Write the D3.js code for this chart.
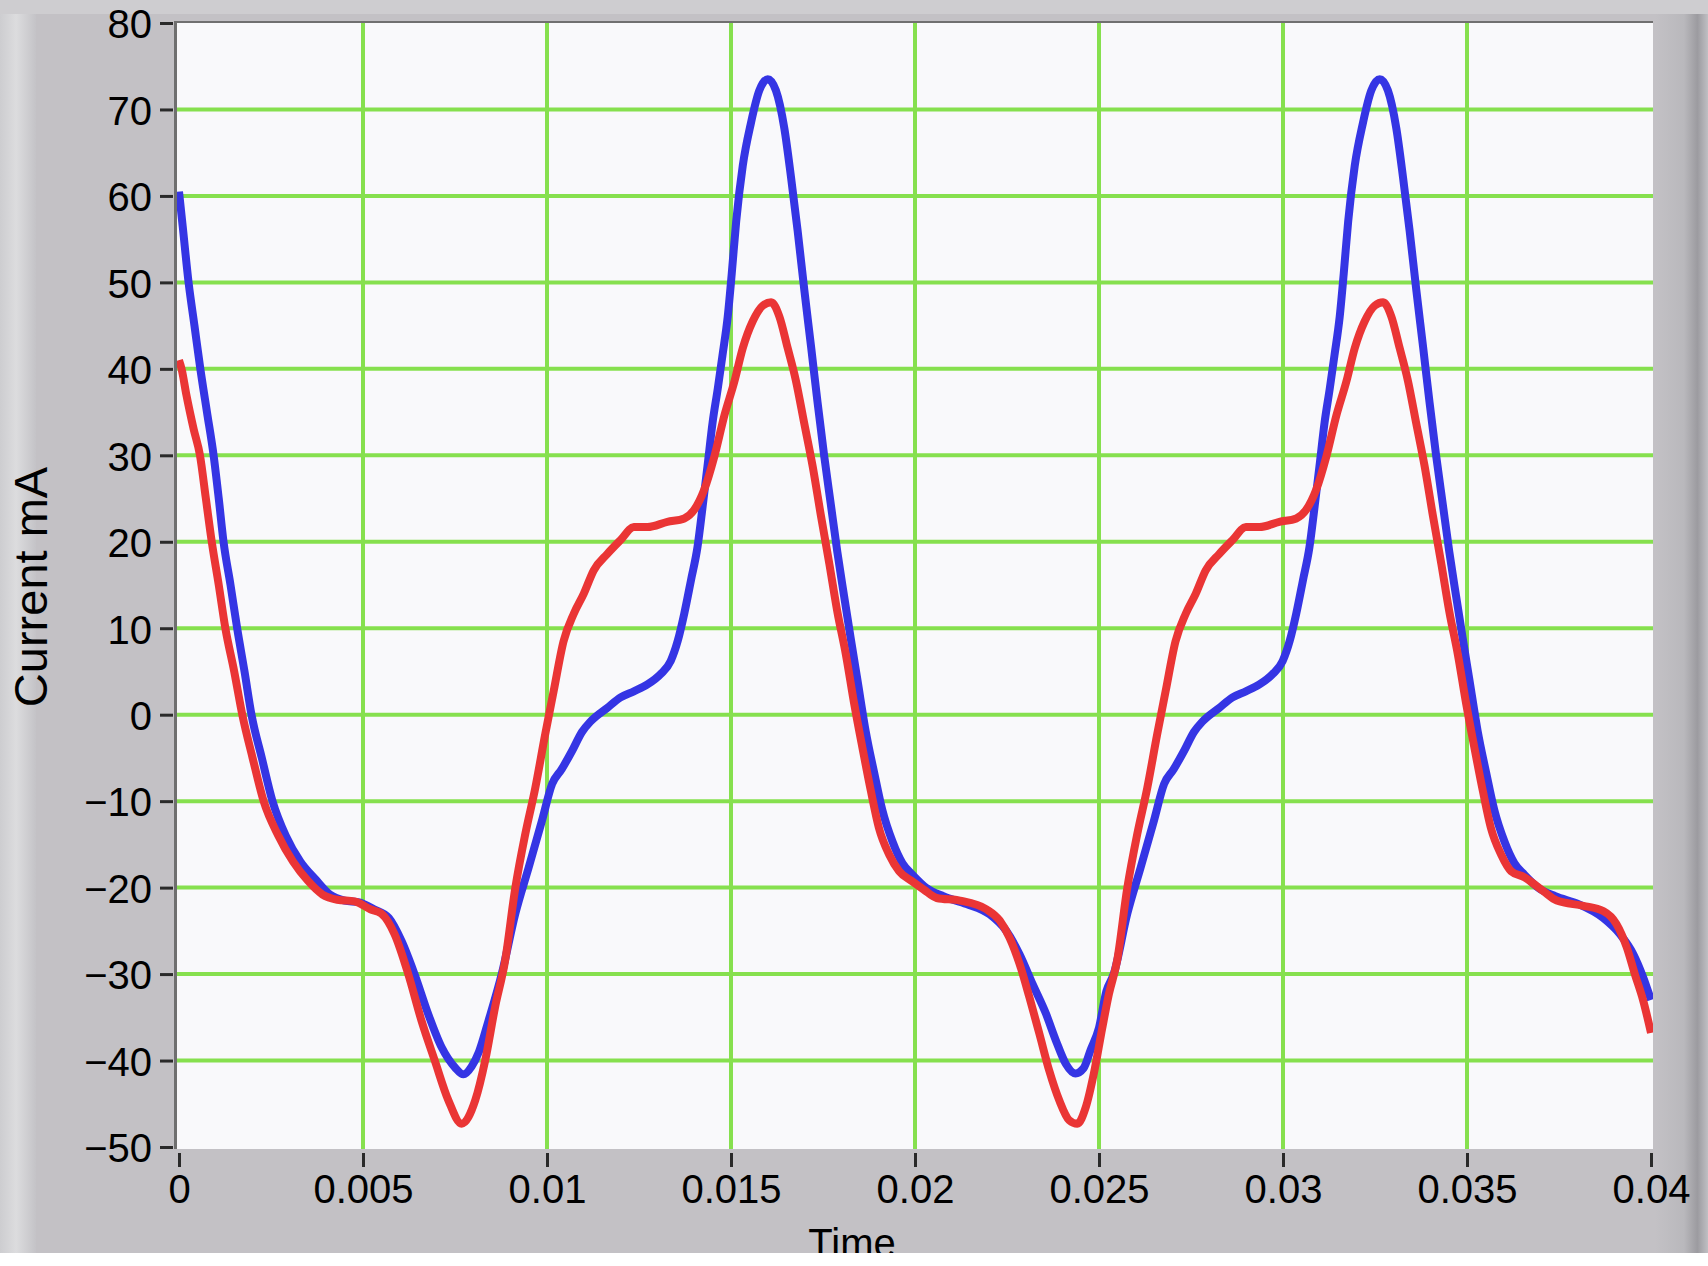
<!DOCTYPE html>
<html><head><meta charset="utf-8">
<script src="https://cdn.jsdelivr.net/npm/d3@7"></script>
<style>html,body{margin:0;padding:0;background:#fff;}svg{display:block;}</style>
</head><body>
<script>
// ---- data ----
const xTicks = [0, 0.005, 0.01, 0.015, 0.02, 0.025, 0.03, 0.035, 0.04];
const xTickLabels = ["0", "0.005", "0.01", "0.015", "0.02", "0.025", "0.03", "0.035", "0.04"];
const yTicks = [80, 70, 60, 50, 40, 30, 20, 10, 0, -10, -20, -30, -40, -50];
const yTickLabels = ["80", "70", "60", "50", "40", "30", "20", "10", "0", "\u221210", "\u221220", "\u221230", "\u221240", "\u221250"];
const xLabel = "Time";
const yLabel = "Current mA";

const blueTime = [0, 0.0001, 0.00026, 0.00042, 0.00058, 0.00076, 0.00094, 0.00108, 0.00121, 0.0014, 0.00158, 0.00178, 0.00197, 0.00225, 0.00254, 0.0029, 0.0033, 0.0037, 0.0041, 0.0045, 0.0049, 0.0053, 0.0057, 0.00605, 0.0064, 0.00677, 0.00714, 0.0075, 0.00773, 0.00795, 0.00815, 0.00841, 0.00877, 0.00914, 0.0095, 0.00986, 0.01014, 0.0104, 0.01068, 0.01095, 0.01118, 0.01164, 0.012, 0.01236, 0.01273, 0.01309, 0.01336, 0.01355, 0.01373, 0.01391, 0.01409, 0.01423, 0.01436, 0.0145, 0.01464, 0.01477, 0.01491, 0.01502, 0.01514, 0.01532, 0.01554, 0.01577, 0.016, 0.01622, 0.01645, 0.01663, 0.01681, 0.01699, 0.01718, 0.01735, 0.01753, 0.01771, 0.01789, 0.01807, 0.01825, 0.01844, 0.01866, 0.01889, 0.01911, 0.01939, 0.01966, 0.01993, 0.0203, 0.02077, 0.0214, 0.02203, 0.02248, 0.02284, 0.0232, 0.02356, 0.02383, 0.0241, 0.02436, 0.02458, 0.02477, 0.025, 0.0252, 0.0254, 0.02577, 0.02613, 0.02649, 0.02677, 0.02703, 0.02731, 0.02758, 0.02781, 0.02827, 0.02863, 0.02899, 0.02936, 0.02972, 0.02999, 0.03018, 0.03036, 0.03054, 0.03072, 0.03086, 0.03099, 0.03113, 0.03127, 0.0314, 0.03154, 0.03165, 0.03177, 0.03195, 0.03217, 0.0324, 0.03263, 0.03285, 0.03308, 0.03326, 0.03344, 0.03362, 0.03381, 0.03398, 0.03416, 0.03434, 0.03452, 0.0347, 0.03488, 0.03507, 0.03529, 0.03552, 0.03574, 0.03602, 0.03629, 0.03656, 0.03693, 0.0374, 0.03803, 0.0387, 0.03916, 0.03952, 0.03979, 0.04];
const blueCurrent = [60.5, 56.5, 50, 45, 40, 35, 30, 25, 20, 15, 10, 5, 0, -5, -10, -14, -17, -19, -20.8, -21.5, -21.7, -22.5, -23.5, -26.2, -30, -34.6, -38.5, -40.8, -41.6, -40.7, -39, -35.4, -30, -23, -17.7, -12.3, -8, -6.3, -4.2, -2, -0.8, 0.8, 2, 2.7, 3.5, 4.7, 6.2, 8.5, 11.7, 15.5, 19.4, 24.1, 28.7, 33.8, 37.7, 41.6, 46, 51, 57, 63.5, 68.4, 72.2, 73.5, 72.2, 67.8, 62.2, 56, 49.2, 42.4, 36.2, 30, 24.4, 18.8, 13.8, 8.9, 3.9, -1.9, -6.7, -11, -14.7, -17.2, -18.5, -20, -21, -21.9, -23.1, -25, -27.7, -31.2, -34.6, -37.7, -40.4, -41.5, -40.9, -38.8, -36.2, -32, -30, -23, -17.7, -12.3, -8, -6.3, -4.2, -2, -0.8, 0.8, 2, 2.7, 3.5, 4.7, 6.2, 8.5, 11.7, 15.5, 19.4, 24.1, 28.7, 33.8, 37.7, 41.6, 46, 51, 57, 63.5, 68.4, 72.2, 73.5, 72.2, 67.8, 62.2, 56, 49.2, 42.4, 36.2, 30, 24.4, 18.8, 13.8, 8.9, 3.9, -1.9, -6.7, -11, -14.7, -17.2, -18.5, -20, -21, -21.9, -23.5, -25.4, -27.7, -30.4, -33];

const redTime = [0, 0.00007, 0.0002, 0.0004, 0.00057, 0.00073, 0.00089, 0.00108, 0.00126, 0.0015, 0.00172, 0.002, 0.0023, 0.0027, 0.0031, 0.0035, 0.0039, 0.0043, 0.00477, 0.0052, 0.0055, 0.00586, 0.00623, 0.00659, 0.00695, 0.00732, 0.00768, 0.00805, 0.00832, 0.00859, 0.00886, 0.00914, 0.00941, 0.00968, 0.00995, 0.01018, 0.01045, 0.01073, 0.011, 0.01127, 0.01164, 0.012, 0.01236, 0.01273, 0.01327, 0.01373, 0.014, 0.01427, 0.01455, 0.01482, 0.01509, 0.01532, 0.01559, 0.01586, 0.01609, 0.01631, 0.01654, 0.01676, 0.01699, 0.01722, 0.01744, 0.01767, 0.01789, 0.01812, 0.01835, 0.01857, 0.0188, 0.01902, 0.0193, 0.01957, 0.01993, 0.02023, 0.02059, 0.02122, 0.02194, 0.0223, 0.02257, 0.02284, 0.02311, 0.02338, 0.02365, 0.02392, 0.02419, 0.02441, 0.02464, 0.02486, 0.02509, 0.02527, 0.02549, 0.02577, 0.02604, 0.02631, 0.02658, 0.02681, 0.02708, 0.02736, 0.02763, 0.0279, 0.02827, 0.02863, 0.02899, 0.02936, 0.0299, 0.03036, 0.03063, 0.0309, 0.03118, 0.03145, 0.03172, 0.03195, 0.03222, 0.03249, 0.03272, 0.03294, 0.03317, 0.03339, 0.03362, 0.03385, 0.03407, 0.0343, 0.03452, 0.03475, 0.03498, 0.0352, 0.03543, 0.03565, 0.03593, 0.0362, 0.03656, 0.03707, 0.03744, 0.03816, 0.0387, 0.03906, 0.03934, 0.03956, 0.03979, 0.04];
const redCurrent = [41, 40, 37, 33, 30, 25, 20, 15, 10, 5, 0, -5, -10, -14, -17, -19.2, -20.8, -21.4, -21.6, -22.5, -23, -25.4, -30, -35.4, -40, -44.6, -47.3, -44.6, -40, -33.8, -28.5, -20, -13.8, -8.5, -2.3, 2.7, 8.5, 11.7, 14, 16.7, 18.6, 20.2, 21.7, 21.7, 22.3, 22.7, 23.7, 26, 29.9, 34.6, 38.5, 42.4, 45.5, 47.3, 47.7, 46.1, 42.4, 38.7, 33.7, 28.7, 23.1, 17.5, 11.9, 7, 1.2, -3.8, -8.8, -13.1, -16.2, -18.1, -19.3, -20.2, -21.2, -21.5, -22.5, -23.8, -25.8, -28.8, -32.7, -36.9, -41.2, -44.6, -46.9, -47.3, -45.4, -41.5, -36.2, -32.3, -28.5, -20, -13.8, -8.5, -2.3, 2.7, 8.5, 11.7, 14, 16.7, 18.6, 20.2, 21.7, 21.7, 22.3, 22.7, 23.7, 26, 29.9, 34.6, 38.5, 42.4, 45.5, 47.3, 47.7, 46.1, 42.4, 38.7, 33.7, 28.7, 23.1, 17.5, 11.9, 7, 1.2, -3.8, -8.8, -13.1, -16.2, -18.1, -18.8, -20.4, -21.5, -22.1, -22.7, -24.2, -26.9, -30, -33.1, -36.8];

// ---- drawing ----
const W = 1708, H = 1266;
const svg = d3.select("body").append("svg").attr("width", W).attr("height", H);
const defs = svg.append("defs");

const x = d3.scaleLinear().domain([0, 0.04]).range([179, 1651]);
const y = d3.scaleLinear().domain([-50, 80]).range([1147, 23]);
const font = "'Liberation Sans', Arial, Helvetica, sans-serif";

// frame background
svg.append("rect").attr("width", W).attr("height", H).attr("fill", "#c3c1c5");
const lg = defs.append("linearGradient").attr("id", "lg").attr("x1", 0).attr("x2", 1).attr("y1", 0).attr("y2", 0);
lg.append("stop").attr("offset", "0").attr("stop-color", "#cdcdd0");
lg.append("stop").attr("offset", "0.45").attr("stop-color", "#dcdcde");
lg.append("stop").attr("offset", "1").attr("stop-color", "#c4c3c7");
svg.append("rect").attr("x", 0).attr("y", 0).attr("width", 36).attr("height", H).attr("fill", "url(#lg)");
const rg = defs.append("linearGradient").attr("id", "rg").attr("x1", 0).attr("x2", 1).attr("y1", 0).attr("y2", 0);
rg.append("stop").attr("offset", "0").attr("stop-color", "#c3c1c5");
rg.append("stop").attr("offset", "0.55").attr("stop-color", "#b9b8bc");
rg.append("stop").attr("offset", "0.8").attr("stop-color", "#9c9ba0");
rg.append("stop").attr("offset", "1").attr("stop-color", "#c0bfc3");
svg.append("rect").attr("x", 1655).attr("y", 0).attr("width", 53).attr("height", H).attr("fill", "url(#rg)");
svg.append("rect").attr("x", 0).attr("y", 0).attr("width", W).attr("height", 14).attr("fill", "#cecdd0");

// plot area
svg.append("rect").attr("x", 177).attr("y", 22).attr("width", 1476).attr("height", 1127).attr("fill", "#f9f9fb");

// grid
const grid = svg.append("g");
grid.selectAll("line.h").data(yTicks.filter(v => v > -50 && v < 80)).join("line")
  .attr("x1", 177).attr("x2", 1653).attr("y1", d => y(d)).attr("y2", d => y(d))
  .attr("stroke", "#86e04e").attr("stroke-width", 4);
grid.selectAll("line.v").data(xTicks.filter(v => v > 0 && v < 0.04)).join("line")
  .attr("y1", 22).attr("y2", 1149).attr("x1", d => x(d)).attr("x2", d => x(d))
  .attr("stroke", "#86e04e").attr("stroke-width", 4);

// borders
svg.append("line").attr("x1", 175).attr("x2", 1653).attr("y1", 22).attr("y2", 22).attr("stroke", "#707070").attr("stroke-width", 2);
svg.append("line").attr("x1", 175.5).attr("x2", 175.5).attr("y1", 21).attr("y2", 1149).attr("stroke", "#6f6f6f").attr("stroke-width", 3);

// lines
defs.append("clipPath").attr("id", "clip").append("rect").attr("x", 177).attr("y", 22).attr("width", 1476).attr("height", 1127);
const line = d3.line().x(d => x(d[0])).y(d => y(d[1])).curve(d3.curveMonotoneX);
const blue = blueTime.map((t, i) => [t, blueCurrent[i]]);
const red = redTime.map((t, i) => [t, redCurrent[i]]);
const lines = svg.append("g").attr("clip-path", "url(#clip)");
lines.append("path").datum(blue).attr("d", line).attr("fill", "none").attr("stroke", "#3535e4").attr("stroke-width", 8).attr("stroke-linejoin", "round");
lines.append("path").datum(red).attr("d", line).attr("fill", "none").attr("stroke", "#ea3535").attr("stroke-width", 8).attr("stroke-linejoin", "round");

// axes
const yAxis = d3.axisLeft(y).tickValues(yTicks).tickSize(13).tickPadding(8).tickFormat((d, i) => yTickLabels[i]);
const gy = svg.append("g").attr("transform", "translate(173,0)").call(yAxis);
gy.select(".domain").remove();
gy.selectAll(".tick line").attr("stroke", "#2a2a2a").attr("stroke-width", 3);
gy.selectAll(".tick text").attr("font-family", font).attr("font-size", 40).attr("fill", "#000").attr("dy", "0.37em");

const xAxis = d3.axisBottom(x).tickValues(xTicks).tickSize(14).tickPadding(8).tickFormat((d, i) => xTickLabels[i]);
const gx = svg.append("g").attr("transform", "translate(0,1153)").call(xAxis);
gx.select(".domain").remove();
gx.selectAll(".tick line").attr("stroke", "#2a2a2a").attr("stroke-width", 3);
gx.selectAll(".tick text").attr("font-family", font).attr("font-size", 40).attr("fill", "#000");

// axis titles
svg.append("text").attr("x", 852).attr("y", 1257).attr("text-anchor", "middle")
  .attr("font-family", font).attr("font-size", 40).attr("fill", "#000").text(xLabel);
svg.append("text").attr("transform", "translate(47,587) rotate(-90)").attr("text-anchor", "middle")
  .attr("font-family", font).attr("font-size", 47).attr("fill", "#000").text(yLabel);

// white strip at bottom
svg.append("rect").attr("x", 0).attr("y", 1253).attr("width", W).attr("height", H - 1253).attr("fill", "#ffffff");
</script>
</body></html>
